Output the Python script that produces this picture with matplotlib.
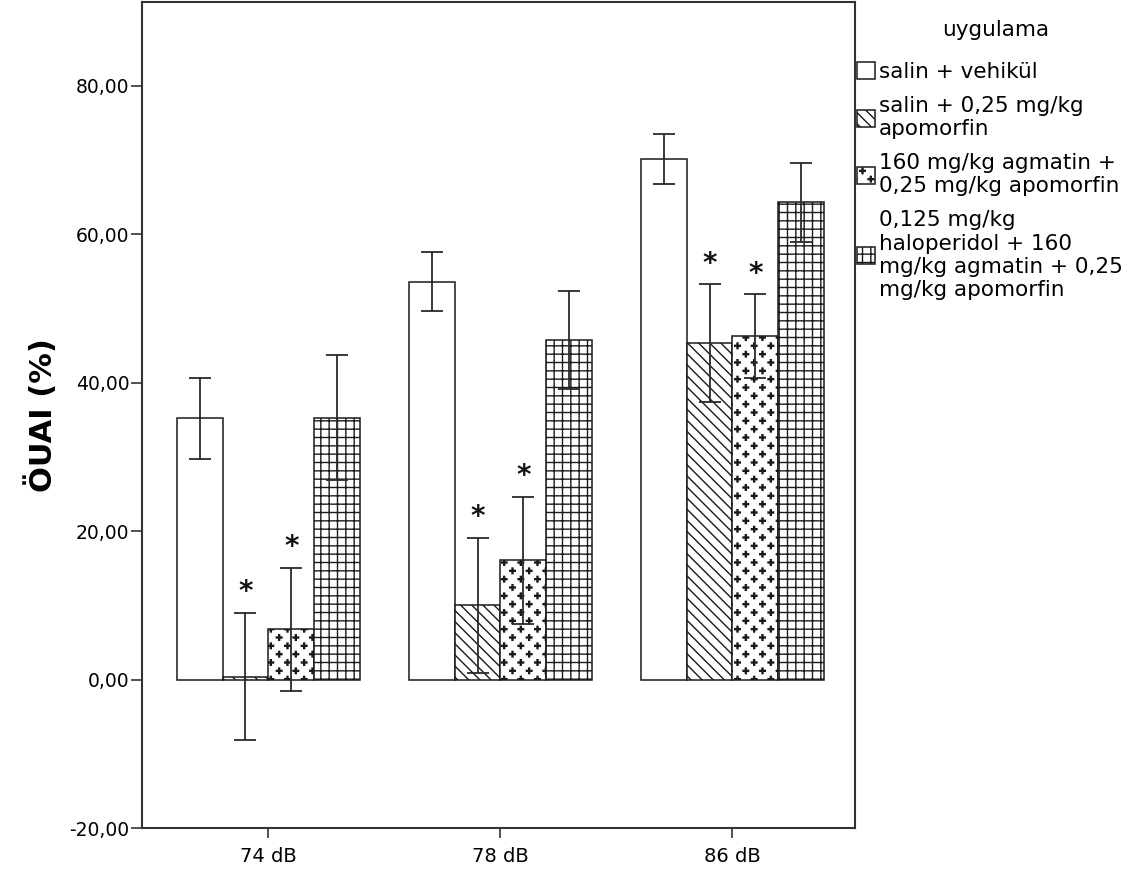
import numpy as np
import matplotlib
matplotlib.use("Agg")
import matplotlib.pyplot as plt
import matplotlib.hatch as mhatch
from matplotlib.path import Path
from matplotlib.ticker import FuncFormatter

# ---------------- data ----------------
categories = ['74 dB', '78 dB', '86 dB']
legend_title = 'uygulama'
series_labels = [
    'salin + vehikül',
    'salin + 0,25 mg/kg\napomorfin',
    '160 mg/kg agmatin +\n0,25 mg/kg apomorfin',
    '0,125 mg/kg\nhaloperidol + 160\nmg/kg agmatin + 0,25\nmg/kg apomorfin',
]
means_vehicle = [35.2, 53.6, 70.15]
means_apo = [0.4, 10.0, 45.3]
means_agm_apo = [6.8, 16.05, 46.25]
means_hal_agm_apo = [35.3, 45.7, 64.3]
err_vehicle = [5.5, 3.95, 3.35]
err_apo = [8.6, 9.1, 7.95]
err_agm_apo = [8.3, 8.6, 5.65]
err_hal_agm_apo = [8.4, 6.6, 5.3]
sig_vehicle = [False, False, False]
sig_apo = [True, True, True]
sig_agm_apo = [True, True, True]
sig_hal_agm_apo = [False, False, False]
yticks = [-20, 0, 20, 40, 60, 80]


# ------------- custom "plus signs" hatch (replaces the '*' hatch) -------------
class PlusHatch(mhatch.HatchPatternBase):
    def __init__(self, hatch, density):
        n = hatch.count('*')
        cols, rows = 6, 12
        if n:
            self.centers = [((j + 0.25 + 0.5 * (k % 2)) / cols, (k + 0.5) / rows)
                            for k in range(rows) for j in range(cols)]
        else:
            self.centers = []
        a, t = 0.028, 0.005
        self.shape = np.array([[-t, -a], [t, -a], [t, -t], [a, -t], [a, t], [t, t],
                               [t, a], [-t, a], [-t, t], [-a, t], [-a, -t], [-t, -t],
                               [-t, -a]])
        self.num_vertices = len(self.centers) * len(self.shape)

    def set_vertices_and_codes(self, vertices, codes):
        n = len(self.shape)
        cs = np.full(n, Path.LINETO, dtype=Path.code_type)
        cs[0] = Path.MOVETO
        cs[-1] = Path.CLOSEPOLY
        for i, (cx, cy) in enumerate(self.centers):
            vertices[i * n:(i + 1) * n] = self.shape + np.array([cx, cy])
            codes[i * n:(i + 1) * n] = cs


mhatch._hatch_types = [h for h in mhatch._hatch_types if h is not mhatch.Stars] + [PlusHatch]

plt.rcParams['font.family'] = ['DejaVu Sans']
plt.rcParams['hatch.linewidth'] = 1.0

fig = plt.figure(figsize=(11.44, 8.8), dpi=100)
ax = fig.add_axes([142 / 1144, 1 - 828 / 880, (855 - 142) / 1144, (828 - 2) / 880])

x = np.arange(len(categories))
w = 0.198
means = [means_vehicle, means_apo, means_agm_apo, means_hal_agm_apo]
errs = [err_vehicle, err_apo, err_agm_apo, err_hal_agm_apo]
sigs = [sig_vehicle, sig_apo, sig_agm_apo, sig_hal_agm_apo]
hatches = ['', '\\\\\\', '*', '++']
offsets = [-1.5 * w, -0.5 * w, 0.5 * w, 1.5 * w]

for m, e, s, h, off, lab in zip(means, errs, sigs, hatches, offsets, series_labels):
    pos = x + off
    ax.bar(pos, m, width=w, color='white', edgecolor='#1a1a1a', linewidth=1.1,
           hatch=h, label=lab, zorder=2)
    ax.errorbar(pos, m, yerr=e, fmt='none', ecolor='#2a2a2a', elinewidth=1.3,
                capsize=8, capthick=1.3, zorder=3)
    for xi, mi, ei, si in zip(pos, m, e, s):
        if si:
            ax.annotate('*', xy=(xi, mi + ei), xytext=(0, 9), textcoords='offset points',
                        ha='center', va='baseline', fontsize=20, fontweight='bold',
                        color='#111111')

ax.set_xlim(-0.545, 2.528)
ax.set_ylim(-20, 91.3)
ax.set_xticks(x)
ax.set_xticklabels(categories)
ax.set_yticks(yticks)
ax.yaxis.set_major_formatter(FuncFormatter(lambda v, p: f"{v:.2f}".replace('.', ',')))
for sp in ax.spines.values():
    sp.set_linewidth(1.5)
    sp.set_color('#333333')
ax.tick_params(axis='y', direction='out', length=8, width=1.2, pad=1, labelsize=13.5,
               color='#333333')
ax.tick_params(axis='x', direction='out', length=7, width=1.2, pad=7, labelsize=14,
               color='#333333')

ax.set_ylabel('ÖUAI (%)', fontsize=22, fontweight='bold')
ax.yaxis.set_label_coords(-0.118, 0.5)

leg = ax.legend(loc='upper left',
                bbox_to_anchor=(857 / 1144, 1 - 62 / 880), bbox_transform=fig.transFigure,
                frameon=False, fontsize=15.5,
                handlelength=0.85, handleheight=0.85, handletextpad=0.15,
                labelspacing=0.65, borderpad=0, borderaxespad=0)
fig.text(996 / 1144, 1 - 30 / 880, legend_title, ha='center', va='center', fontsize=15.5)

fig.savefig('out.png', dpi=100)
